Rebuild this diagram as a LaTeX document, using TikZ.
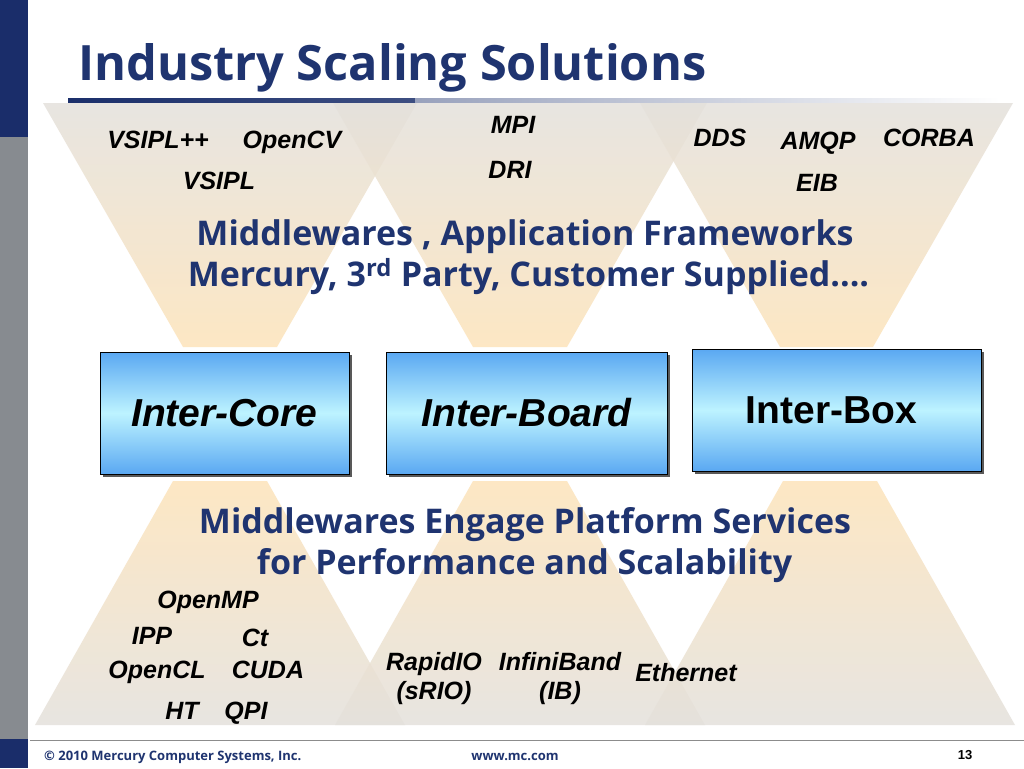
\documentclass[tikz,border=0pt]{standalone}
\usepackage{fontspec}
\setmainfont{Liberation Sans}
\newfontfamily\osans{Open Sans}
\definecolor{barnavy}{HTML}{1A2D6A}
\definecolor{bargray}{HTML}{878B90}
\definecolor{headblue}{HTML}{1F3470}
\definecolor{linenavy}{HTML}{1B2F6B}
\definecolor{funtop}{HTML}{E4E1DC}
\definecolor{funbot}{HTML}{FDE3BA}
\definecolor{boxedge}{HTML}{5AA8F2}
\definecolor{boxmid}{HTML}{BDF3FF}
\tikzset{
  funnel/.style={top color=funtop, bottom color=funbot, fill opacity=0.85},
  pyramid/.style={top color=funbot, bottom color=funtop, fill opacity=0.85},
  boxshadow/.style={fill=black!65},
  layerbox/.style={draw=black, line width=1pt, top color=boxedge, bottom color=boxedge,
    middle color=boxmid, inner sep=0pt, minimum height=122pt,
    font=\bfseries\fontsize{39}{44}\selectfont},
  tag/.style={inner sep=0pt, anchor=base, font=\bfseries\itshape\fontsize{25}{29}\selectfont},
  headline/.style={inner sep=0pt, anchor=base, text=headblue, font=\osans\bfseries\fontsize{34}{40}\selectfont},
  footer/.style={inner sep=0pt, anchor=base, text=headblue, font=\osans\bfseries\fontsize{13}{15}\selectfont},
}
\begin{document}
\begin{tikzpicture}[x=1pt,y=-1pt]
\useasboundingbox (0,0) rectangle (1024,768);
\fill[white] (0,0) rectangle (1024,768);
% left bar
\fill[barnavy] (0,0) rectangle (28,137);
\fill[bargray] (0,137) rectangle (28,739);
\fill[barnavy] (0,739) rectangle (28,768);
% title
\node[anchor=base west, inner sep=0pt, text=headblue, font=\osans\bfseries\fontsize{48.7}{56}\selectfont] (title) at (78,80) {Industry Scaling Solutions};
\shade[left color=linenavy, right color=linenavy!85!white] (68,98) rectangle (415,102);
\shade[left color=linenavy!45!white, right color=white] (415,98) rectangle (1000,102);
% funnels (top)
\shade[funnel] (43,103) -- (417,103) -- (277,347) -- (183,347) -- cycle;
\shade[funnel] (333,103) -- (707,103) -- (567,347) -- (473,347) -- cycle;
\shade[funnel] (640,103) -- (1013,103) -- (873,347) -- (780,347) -- cycle;
% pyramids (bottom)
\shade[pyramid] (173,481) -- (267,481) -- (405,725) -- (35,725) -- cycle;
\shade[pyramid] (473,481) -- (567,481) -- (705,725) -- (335,725) -- cycle;
\shade[pyramid] (783,481) -- (877,481) -- (1015,725) -- (645,725) -- cycle;
% top labels
\node[tag] (vsiplpp) at (158,148) {VSIPL++};
\node[tag] (opencv) at (292,148) {OpenCV};
\node[tag] (vsipl) at (219,189) {VSIPL};
\node[tag] (mpi) at (513,133) {MPI};
\node[tag] (dri) at (510,178) {DRI};
\node[tag] (dds) at (720,146) {DDS};
\node[tag] (amqp) at (818,149) {AMQP};
\node[tag] (corba) at (929,146) {CORBA};
\node[tag] (eib) at (817,191) {EIB};
% headlines top
\node[headline] (mw1) at (525,245) {Middlewares , Application Frameworks};
\node[headline] (mw2) at (528.5,286) {Mercury, 3\textsuperscript{rd} Party, Customer Supplied....};
% boxes
\fill[boxshadow] (103,355) rectangle (352,477);
\fill[boxshadow] (389,355) rectangle (670,477);
\fill[boxshadow] (695,352) rectangle (984,474);
\node[layerbox, minimum width=249pt] (core) at (224.5,413) {\itshape Inter-Core};
\node[layerbox, minimum width=281pt] (board) at (526.5,413) {\itshape Inter-Board};
\node[layerbox, minimum width=289pt] (interbox) at (836.5,410) {\hspace*{-10pt}Inter-Box};
% headlines bottom
\node[headline] (mw3) at (525,533) {Middlewares Engage Platform Services};
\node[headline] (mw4) at (524.5,574) {for Performance and Scalability};
% bottom labels
\node[tag] (openmp) at (208,608) {OpenMP};
\node[tag] (ipp) at (152,644) {IPP};
\node[tag] (ct) at (255,646) {Ct};
\node[tag] (opencl) at (157,678) {OpenCL};
\node[tag] (cuda) at (268,678) {CUDA};
\node[tag] (ht) at (182,719) {HT};
\node[tag] (qpi) at (246,719) {QPI};
\node[tag] (rapidio) at (434,670) {RapidIO};
\node[tag] (srio) at (434,699) {(sRIO)};
\node[tag] (infiniband) at (560,670) {InfiniBand};
\node[tag] (ib) at (560,699) {(IB)};
\node[tag] (ethernet) at (686,681) {Ethernet};
% footer
\draw[black!45, line width=0.8pt] (30,740) -- (1024,740);
\node[footer, anchor=base west] (copy) at (44,760) {\textcopyright{} 2010 Mercury Computer Systems, Inc.};
\node[footer] (web) at (515,760) {www.mc.com};
\node[inner sep=0pt, anchor=base, font=\bfseries\fontsize{13}{15}\selectfont] (page) at (965,759) {13};
\end{tikzpicture}
\end{document}
